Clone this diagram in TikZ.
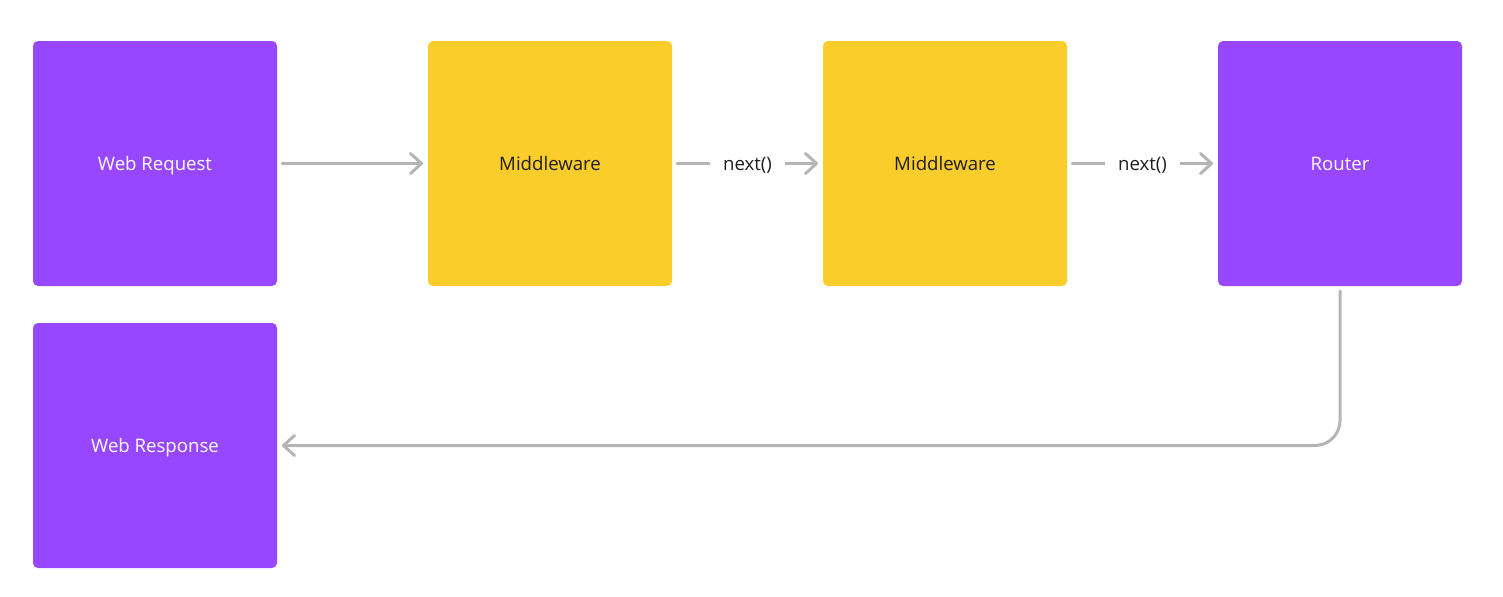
\documentclass[tikz,border=0pt]{standalone}
\usepackage{fontspec}
\setmainfont{Open Sans}
\usetikzlibrary{arrows.meta}
\definecolor{mpurple}{HTML}{9747FF}
\definecolor{myellow}{HTML}{FBCD2A}
\definecolor{lgray}{HTML}{B5B5B5}
\definecolor{tdark}{HTML}{1E1E1E}

\begin{document}
\begin{tikzpicture}[x=0.5pt,y=-0.5pt,
  box/.style={minimum width=122pt, minimum height=122.5pt, inner sep=0pt,
    outer sep=2.5pt, rounded corners=2.5pt, text height=8pt, text depth=1pt,
    font=\fontsize{9.3}{11}\selectfont},
  purplebox/.style={box, fill=mpurple, text=white},
  yellowbox/.style={box, fill=myellow, text=tdark},
  flow/.style={draw=lgray, line width=1.5pt, line cap=round,
    -{Straight Barb[length=5.5pt, width=10pt, round]}},
  lbl/.style={fill=white, inner sep=6.5pt, text height=8pt, text depth=1pt,
    text=tdark, font=\fontsize{9.3}{11}\selectfont}]
  \useasboundingbox (0,0) rectangle (1503,596);

  \node[purplebox] (req) at (155,163.5) {Web Request};
  \node[yellowbox] (mw1) at (550,163.5) {Middleware};
  \node[yellowbox] (mw2) at (945,163.5) {Middleware};
  \node[purplebox] (rt) at (1340,163.5) {Router};
  \node[purplebox] (resp) at (155,445.5) {Web Response};

  \draw[flow] (req) -- (mw1);
  \draw[flow] (mw1) -- node[lbl] {next()} (mw2);
  \draw[flow] (mw2) -- node[lbl] {next()} (rt);
  % back to the client
  \draw[flow, rounded corners=12.5pt] (rt.south) |- (resp.east);
\end{tikzpicture}
\end{document}
